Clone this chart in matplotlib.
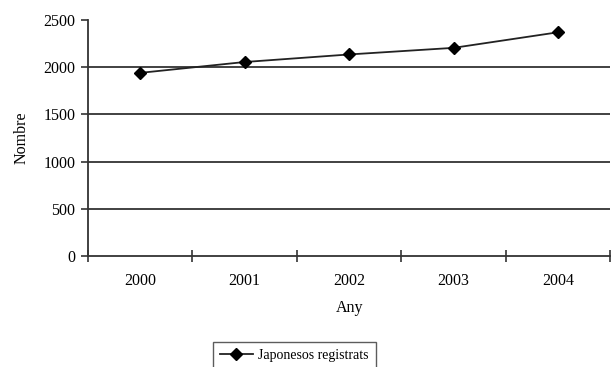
import matplotlib.pyplot as plt
import numpy as np

years = ['2000', '2001', '2002', '2003', '2004']
registrats = [1940, 2055, 2135, 2205, 2370]
y_ticks = [0, 500, 1000, 1500, 2000, 2500]

plt.rcParams['font.family'] = ['Liberation Serif', 'DejaVu Serif']

fig = plt.figure(figsize=(6.13, 3.67), dpi=100)
ax = fig.add_axes([0.1436, 0.3025, 0.852, 0.643])

x = np.arange(len(years))
for v in y_ticks[1:-1]:
    ax.axhline(v, color='#333333', lw=1.3, zorder=1)

ax.plot(x, registrats, color='#222222', lw=1.3, marker='D', ms=6,
        mfc='black', mec='black', label='Japonesos registrats', zorder=3)

ax.set_xlim(-0.5, len(years) - 0.5)
ax.set_ylim(0, 2500)
ax.set_yticks(y_ticks)
ax.set_xticks(x)
ax.set_xticklabels(years)
ax.set_xticks(np.arange(-0.5, len(years)), minor=True)
ax.tick_params(axis='x', which='major', length=0, pad=12, labelsize=11.5)
ax.tick_params(axis='x', which='minor', direction='inout', length=8, width=1.2, color='#333333')
ax.tick_params(axis='y', direction='out', length=5, width=1.2, color='#333333', labelsize=11.5, pad=4)

for s in ['top', 'right']:
    ax.spines[s].set_visible(False)
for s in ['left', 'bottom']:
    ax.spines[s].set_color('#333333')
    ax.spines[s].set_linewidth(1.3)

ax.set_xlabel('Any', fontsize=11.5, labelpad=8)
ax.set_ylabel('Nombre', fontsize=11.5, labelpad=10)

fig.legend(loc='upper center', bbox_to_anchor=(0.48, 0.068), frameon=True,
           fancybox=False, edgecolor='#333333', fontsize=10, handlelength=2.4,
           handletextpad=0.4, borderpad=0.5, borderaxespad=0)

fig.savefig('out.png', dpi=100)
